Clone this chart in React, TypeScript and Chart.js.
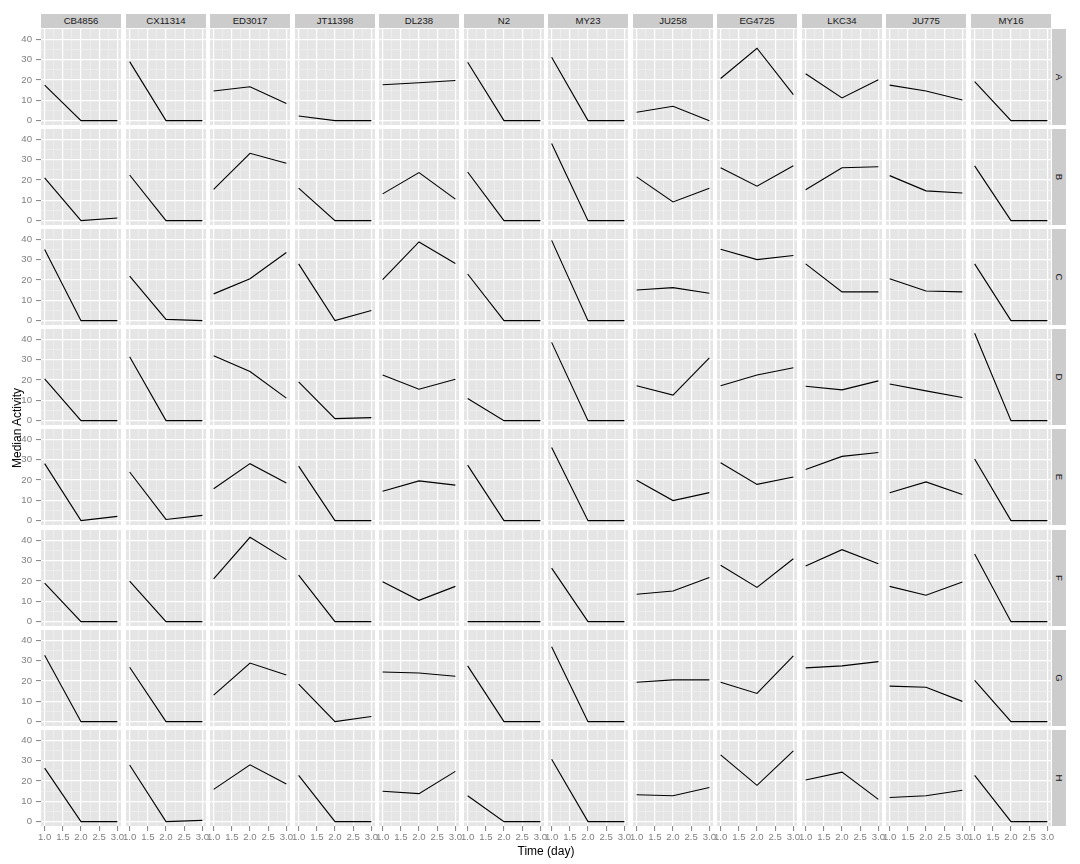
import React, { useEffect, useRef } from "react";
import { Chart, registerables } from "chart.js";

Chart.register(...registerables);

const strains = ["CB4856", "CX11314", "ED3017", "JT11398", "DL238", "N2", "MY23", "JU258", "EG4725", "LKC34", "JU775", "MY16"];
const groups = ["A", "B", "C", "D", "E", "F", "G", "H"];
const timeDays = [1, 2, 3];
const yTickValues = [0, 10, 20, 30, 40];
const yMinorValues = [5, 15, 25, 35];
const xTickValues = [1, 1.5, 2, 2.5, 3];
const xTickLabels = ["1.0", "1.5", "2.0", "2.5", "3.0"];
const xMinorValues = [1.25, 1.75, 2.25, 2.75];

// median activity per strain (in strain order) at day 1, 2, 3
const groupA = [[17.5, 0, 0], [29.1, 0, 0], [14.6, 16.7, 8.5], [2.3, 0, 0], [17.7, 18.7, 19.8], [28.8, 0, 0], [31.3, 0, 0], [4.1, 7.1, 0], [20.8, 35.7, 12.8], [23.1, 11.2, 20.2], [17.5, 14.6, 10.2], [19.3, 0, 0]];
const groupB = [[21.1, 0, 1.3], [22.5, 0, 0], [15.4, 33.2, 28.3], [16.0, 0, 0], [13.2, 23.7, 10.6], [24.0, 0, 0], [38.1, 0, 0], [21.6, 9.2, 16.0], [26.1, 17.0, 27.1], [15.2, 26.1, 26.6], [22.2, 14.7, 13.6], [27.0, 0, 0]];
const groupC = [[35.1, 0, 0], [22.0, 0.6, 0], [13.2, 20.7, 33.6], [28.0, 0, 5.0], [20.2, 38.8, 28.2], [23.0, 0, 0], [39.6, 0, 0], [15.1, 16.3, 13.5], [35.2, 30.1, 32.1], [28.0, 14.2, 14.2], [20.7, 14.6, 14.2], [28.0, 0, 0]];
const groupD = [[20.6, 0, 0], [31.5, 0, 0], [32.0, 24.2, 11.1], [19.1, 1.0, 1.5], [22.5, 15.5, 20.4], [10.9, 0, 0], [38.6, 0, 0], [17.2, 12.6, 31.0], [17.2, 22.5, 26.1], [17.0, 15.2, 19.6], [18.1, 14.7, 11.4], [43.1, 0, 0]];
const groupE = [[28.1, 0, 2.1], [24.0, 0.6, 2.6], [15.7, 28.1, 18.6], [26.9, 0, 0], [14.5, 19.6, 17.5], [27.4, 0, 0], [36.1, 0, 0], [19.9, 9.9, 13.8], [28.6, 17.9, 21.5], [25.2, 31.7, 33.6], [13.8, 19.1, 12.9], [30.4, 0, 0]];
const groupF = [[19.0, 0, 0], [20.0, 0, 0], [21.1, 41.6, 30.6], [22.9, 0, 0], [19.7, 10.5, 17.4], [0, 0, 0], [26.4, 0, 0], [13.5, 15.1, 21.8], [27.8, 16.9, 31.0], [27.5, 35.5, 28.5], [17.4, 13.0, 19.5], [33.4, 0, 0]];
const groupG = [[32.8, 0, 0], [26.8, 0, 0], [13.1, 28.9, 23.0], [18.5, 0, 2.5], [24.5, 24.0, 22.4], [27.5, 0, 0], [36.9, 0, 0], [19.4, 20.6, 20.6], [19.4, 13.9, 32.4], [26.5, 27.5, 29.6], [17.5, 17.0, 10.0], [20.3, 0, 0]];
const groupH = [[26.4, 0, 0], [27.9, 0, 0.6], [15.9, 28.0, 18.6], [22.8, 0, 0], [15.0, 13.8, 24.8], [12.8, 0, 0], [30.8, 0, 0], [13.3, 12.8, 16.8], [32.9, 17.9, 34.9], [20.5, 24.4, 11.0], [11.9, 12.8, 15.5], [22.8, 0, 0]];

const groupSeries = [groupA, groupB, groupC, groupD, groupE, groupF, groupG, groupH];

// layout
const COL0 = 41;
const COLSTEP = 84.5;
const PW = 80;
const ROW0 = 29;
const ROWSTEP = 100.1;
const PH = 96;
const YAXW = 31;
const XAXH = 22;
const PADX = 10;
const FONT = "'Liberation Sans', Arial, Helvetica, sans-serif";
const GREY50 = "#7F7F7F";

const colLeft = (c: number) => Math.round(COL0 + c * COLSTEP);
const rowTop = (r: number) => Math.round(ROW0 + r * ROWSTEP);

const bgPlugin = {
  id: "panelBg",
  beforeDraw(chart: any) {
    const { ctx, chartArea } = chart;
    ctx.save();
    ctx.fillStyle = "#E5E5E5";
    ctx.fillRect(chartArea.left, chartArea.top, chartArea.right - chartArea.left, chartArea.bottom - chartArea.top);
    ctx.restore();
  },
};

function makeConfig(values: number[], isLeft: boolean, isBottom: boolean): any {
  const xMajor = (v: any) => xTickValues.indexOf(v) >= 0;
  const yMajor = (v: any) => yTickValues.indexOf(v) >= 0;
  return {
    type: "line",
    data: {
      datasets: [
        {
          data: timeDays.map((t, i) => ({ x: t, y: values[i] })),
          borderColor: "#000000",
          borderWidth: 1.1,
          pointRadius: 0,
          fill: false,
          tension: 0,
        },
      ],
    },
    options: {
      animation: false,
      responsive: false,
      devicePixelRatio: 1,
      events: [],
      layout: { padding: { left: isBottom ? PADX : 0, right: isBottom ? PADX : 0, top: 0, bottom: 0 } },
      plugins: { legend: { display: false }, tooltip: { enabled: false }, title: { display: false } },
      scales: {
        x: {
          type: "linear",
          min: 0.9,
          max: 3.1,
          afterBuildTicks: (s: any) => {
            s.ticks = [...xTickValues, ...xMinorValues].sort((a, b) => a - b).map((v) => ({ value: v }));
          },
          afterFit: (s: any) => {
            s.height = isBottom ? XAXH : 0;
            s.paddingLeft = 0;
            s.paddingRight = 0;
          },
          border: { display: false },
          grid: {
            color: (ctx: any) => (xMajor(ctx.tick?.value) ? "#FFFFFF" : "#F2F2F2"),
            lineWidth: (ctx: any) => (xMajor(ctx.tick?.value) ? 1.2 : 0.6),
            drawTicks: isBottom,
            tickLength: 5,
            tickWidth: 1,
            tickColor: (ctx: any) => (xMajor(ctx.tick?.value) ? GREY50 : "rgba(0,0,0,0)"),
          },
          ticks: {
            display: isBottom,
            autoSkip: false,
            maxRotation: 0,
            minRotation: 0,
            padding: 1,
            color: GREY50,
            font: { family: FONT, size: 9.6 },
            callback: (v: any) => {
              const i = xTickValues.indexOf(v);
              return i >= 0 ? xTickLabels[i] : "";
            },
          },
        },
        y: {
          type: "linear",
          min: -2.15,
          max: 45.2,
          afterBuildTicks: (s: any) => {
            s.ticks = [...yTickValues, ...yMinorValues].sort((a, b) => a - b).map((v) => ({ value: v }));
          },
          afterFit: (s: any) => {
            s.width = isLeft ? YAXW : 0;
            s.paddingTop = 0;
            s.paddingBottom = 0;
          },
          border: { display: false },
          grid: {
            color: (ctx: any) => (yMajor(ctx.tick?.value) ? "#FFFFFF" : "#F2F2F2"),
            lineWidth: (ctx: any) => (yMajor(ctx.tick?.value) ? 1.2 : 0.6),
            drawTicks: isLeft,
            tickLength: 5,
            tickWidth: 1,
            tickColor: (ctx: any) => (yMajor(ctx.tick?.value) ? GREY50 : "rgba(0,0,0,0)"),
          },
          ticks: {
            display: isLeft,
            autoSkip: false,
            padding: 4,
            color: GREY50,
            font: { family: FONT, size: 9.6 },
            callback: (v: any) => (yMajor(v) ? String(v) : ""),
          },
        },
      },
    },
    plugins: [bgPlugin],
  };
}

export default function App() {
  const refs = useRef<(HTMLCanvasElement | null)[]>([]);

  useEffect(() => {
    const charts: Chart[] = [];
    groupSeries.forEach((rowVals, r) => {
      rowVals.forEach((vals, c) => {
        const cv = refs.current[r * strains.length + c];
        if (!cv) return;
        charts.push(new Chart(cv, makeConfig(vals, c === 0, r === groups.length - 1)));
      });
    });
    return () => charts.forEach((ch) => ch.destroy());
  }, []);

  const canvases: any[] = [];
  groups.forEach((g, r) => {
    strains.forEach((s, c) => {
      const isLeft = c === 0;
      const isBottom = r === groups.length - 1;
      const padL = isBottom ? PADX : 0;
      const padR = isBottom ? PADX : 0;
      const yw = isLeft ? YAXW : 0;
      const w = padL + yw + PW + padR;
      const h = PH + (isBottom ? XAXH : 0);
      canvases.push(
        <canvas
          key={`${g}-${s}`}
          ref={(el) => {
            refs.current[r * strains.length + c] = el;
          }}
          width={w}
          height={h}
          style={{ position: "absolute", left: colLeft(c) - yw - padL, top: rowTop(r), width: w, height: h }}
        />
      );
    });
  });

  const lastRight = colLeft(strains.length - 1) + PW;
  const lastBottom = rowTop(groups.length - 1) + PH;

  return (
    <div style={{ position: "absolute", left: 0, top: 0, width: 1080, height: 864, background: "#FFFFFF", fontFamily: FONT, overflow: "hidden" }}>
      {strains.map((s, c) => (
        <div
          key={s}
          style={{
            position: "absolute",
            left: colLeft(c),
            top: 14,
            width: PW,
            height: 14,
            background: "#CCCCCC",
            color: "#1A1A1A",
            fontSize: 9.6,
            lineHeight: "14px",
            textAlign: "center",
            whiteSpace: "nowrap",
          }}
        >
          {s}
        </div>
      ))}
      {groups.map((g, r) => (
        <div
          key={g}
          style={{
            position: "absolute",
            left: lastRight + 1,
            top: rowTop(r),
            width: 14,
            height: PH,
            background: "#CCCCCC",
          }}
        >
          <div
            style={{
              position: "absolute",
              left: "50%",
              top: "50%",
              transform: "translate(-50%, -50%) rotate(90deg)",
              color: "#1A1A1A",
              fontSize: 9.6,
              lineHeight: "12px",
              whiteSpace: "nowrap",
            }}
          >
            {g}
          </div>
        </div>
      ))}
      {canvases}
      <div
        style={{
          position: "absolute",
          left: 17,
          top: (rowTop(0) + lastBottom) / 2,
          transform: "translate(-50%, -50%) rotate(-90deg)",
          fontSize: 12,
          color: "#000000",
          whiteSpace: "nowrap",
        }}
      >
        Median Activity
      </div>
      <div
        style={{
          position: "absolute",
          left: (colLeft(0) + lastRight) / 2,
          top: 851,
          transform: "translate(-50%, -50%)",
          fontSize: 12,
          color: "#000000",
          whiteSpace: "nowrap",
        }}
      >
        Time (day)
      </div>
    </div>
  );
}
